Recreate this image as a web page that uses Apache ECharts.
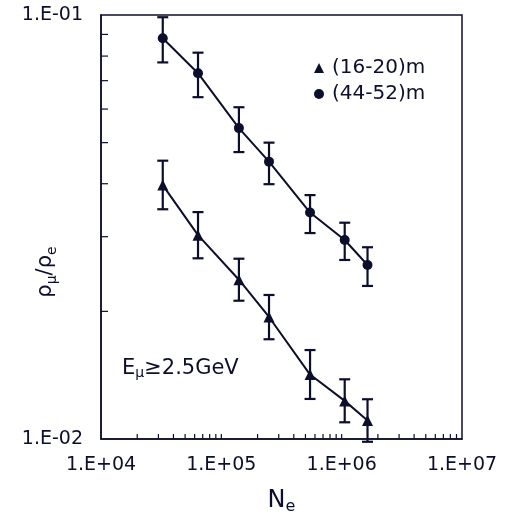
<html>
<head>
<meta charset="utf-8">
<script src="https://cdn.jsdelivr.net/npm/echarts@6/dist/echarts.min.js"></script>
</head>
<body style="margin:0">
<div id="main" style="width:506px;height:516px;"></div>
<script type="text/javascript">
var ink = '#0c0f2b';
var font = 'DejaVu Sans';

// shower size Ne (same for both distance bins)
var ne = [3.26e4, 6.4e4, 1.40e5, 2.49e5, 5.46e5, 1.06e6, 1.64e6];

// (16-20)m  triangles
var near = [0.0397, 0.03025, 0.02375, 0.0194, 0.01419, 0.0123, 0.01106];
var nearLow = [0.03482, 0.02668, 0.02119, 0.01719, 0.01243, 0.01095, 0.00985];
var nearHigh = [0.04533, 0.03429, 0.02662, 0.02186, 0.01621, 0.01383, 0.01241];

// (44-52)m  circles
var far = [0.0881, 0.0729, 0.0541, 0.0451, 0.0342, 0.02947, 0.02573];
var farLow = [0.0773, 0.064, 0.0475, 0.0399, 0.0306, 0.02644, 0.02296];
var farHigh = [0.0988, 0.0815, 0.0606, 0.05, 0.0376, 0.03237, 0.02833];

// tick marks of the log axes
var xTicks = [2e4, 3e4, 4e4, 5e4, 6e4, 7e4, 8e4, 9e4, 1e5,
              2e5, 3e5, 4e5, 5e5, 6e5, 7e5, 8e5, 9e5, 1e6,
              2e6, 3e6, 4e6, 5e6, 6e6, 7e6, 8e6, 9e6];
var yTicks = [0.02, 0.03, 0.04, 0.05, 0.06, 0.07, 0.08, 0.09];

function sci(v) {
    var e = Math.round(Math.log(v) / Math.LN10);
    var s = e < 0 ? '-' : '+';
    var a = Math.abs(e);
    return '1.E' + s + (a < 10 ? '0' + a : a);
}

function pairs(xs, ys) {
    return xs.map(function (x, i) { return [x, ys[i]]; });
}
function bars(xs, lo, hi) {
    return xs.map(function (x, i) { return [x, lo[i], hi[i]]; });
}

function errorBar(params, api) {
    var top = api.coord([api.value(0), api.value(2)]);
    var bot = api.coord([api.value(0), api.value(1)]);
    var w = 5.5;
    var st = { stroke: ink, lineWidth: 2.2 };
    return {
        type: 'group',
        children: [
            { type: 'line', shape: { x1: top[0], y1: top[1], x2: bot[0], y2: bot[1] }, style: st },
            { type: 'line', shape: { x1: top[0] - w, y1: top[1], x2: top[0] + w, y2: top[1] }, style: st },
            { type: 'line', shape: { x1: bot[0] - w, y1: bot[1], x2: bot[0] + w, y2: bot[1] }, style: st }
        ]
    };
}

var myChart = echarts.init(document.getElementById('main'));

var option = {
    backgroundColor: '#ffffff',
    animation: false,
    grid: {
        left: 101, top: 15, right: 44, bottom: 77,
        containLabel: false, outerBoundsMode: 'none',
        show: true, borderColor: ink, borderWidth: 1.5
    },
    legend: {
        orient: 'vertical',
        left: 309, top: 53,
        itemWidth: 10, itemHeight: 10, itemGap: 6,
        textStyle: { color: ink, fontSize: 20, fontFamily: font, padding: [0, 0, 0, 3] },
        data: [
            { name: '(16-20)m', icon: 'triangle', itemStyle: { color: ink } },
            { name: '(44-52)m', icon: 'circle', itemStyle: { color: ink } }
        ]
    },
    xAxis: {
        type: 'log', logBase: 10, min: 1e4, max: 1e7,
        name: '{a|N}{s|e}',
        nameLocation: 'middle', nameGap: 48, nameMoveOverlap: false,
        nameTextStyle: {
            rich: {
                a: { fontSize: 24, fontFamily: font, color: ink, lineHeight: 28 },
                s: { fontSize: 16, fontFamily: font, color: ink, lineHeight: 16, verticalAlign: 'bottom' }
            }
        },
        axisLine: { lineStyle: { color: ink, width: 1.5 } },
        axisTick: { show: false },
        minorTick: { show: false },
        splitLine: { show: false },
        axisLabel: { formatter: sci, color: ink, fontSize: 19, fontFamily: font, margin: 17 }
    },
    yAxis: {
        type: 'log', logBase: 10, min: 0.01, max: 0.1,
        axisLine: { lineStyle: { color: ink, width: 1.5 } },
        axisTick: { show: false },
        splitLine: { show: false },
        axisLabel: { formatter: sci, color: ink, fontSize: 19, fontFamily: font, margin: 18 }
    },
    graphic: [
        {
            // y axis title, sits lower than the middle of the axis
            type: 'text', x: 46, y: 272, rotation: Math.PI / 2,
            style: {
                text: '{a|ρ}{s|μ}{a|/ρ}{s|e}',
                align: 'center', verticalAlign: 'middle',
                rich: {
                    a: { fontSize: 21, fontFamily: font, fill: ink, lineHeight: 26 },
                    s: { fontSize: 14, fontFamily: font, fill: ink, lineHeight: 14, verticalAlign: 'bottom' }
                }
            }
        },
        {
            type: 'text', left: 122, top: 358,
            style: {
                text: '{a|E}{s|μ}{a|≥2.5GeV}',
                rich: {
                    a: { fontSize: 21, fontFamily: font, fill: ink, lineHeight: 24 },
                    s: { fontSize: 14, fontFamily: font, fill: ink, lineHeight: 14, verticalAlign: 'bottom' }
                }
            }
        }
    ],
    series: [
        {
            name: 'xticks', type: 'custom', silent: true, clip: false,
            data: xTicks.map(function (v) { return [v, 0.01]; }),
            renderItem: function (params, api) {
                var p = api.coord([api.value(0), api.value(1)]);
                return { type: 'line', shape: { x1: p[0], y1: p[1], x2: p[0], y2: p[1] - 5 }, style: { stroke: ink, lineWidth: 1.2 } };
            }
        },
        {
            name: 'yticks', type: 'custom', silent: true, clip: false,
            data: yTicks.map(function (v) { return [1e4, v]; }),
            renderItem: function (params, api) {
                var p = api.coord([api.value(0), api.value(1)]);
                return { type: 'line', shape: { x1: p[0], y1: p[1], x2: p[0] + 7, y2: p[1] }, style: { stroke: ink, lineWidth: 1.2 } };
            }
        },
        {
            name: 'nearErr', type: 'custom', clip: false, silent: true,
            data: bars(ne, nearLow, nearHigh), renderItem: errorBar
        },
        {
            name: 'farErr', type: 'custom', clip: false, silent: true,
            data: bars(ne, farLow, farHigh), renderItem: errorBar
        },
        {
            name: '(16-20)m', type: 'line',
            data: pairs(ne, near),
            symbol: 'triangle', symbolSize: 11,
            lineStyle: { color: ink, width: 2 },
            itemStyle: { color: ink }
        },
        {
            name: '(44-52)m', type: 'line',
            data: pairs(ne, far),
            symbol: 'circle', symbolSize: 10,
            lineStyle: { color: ink, width: 2 },
            itemStyle: { color: ink }
        }
    ]
};

myChart.setOption(option);
</script>
</body>
</html>
